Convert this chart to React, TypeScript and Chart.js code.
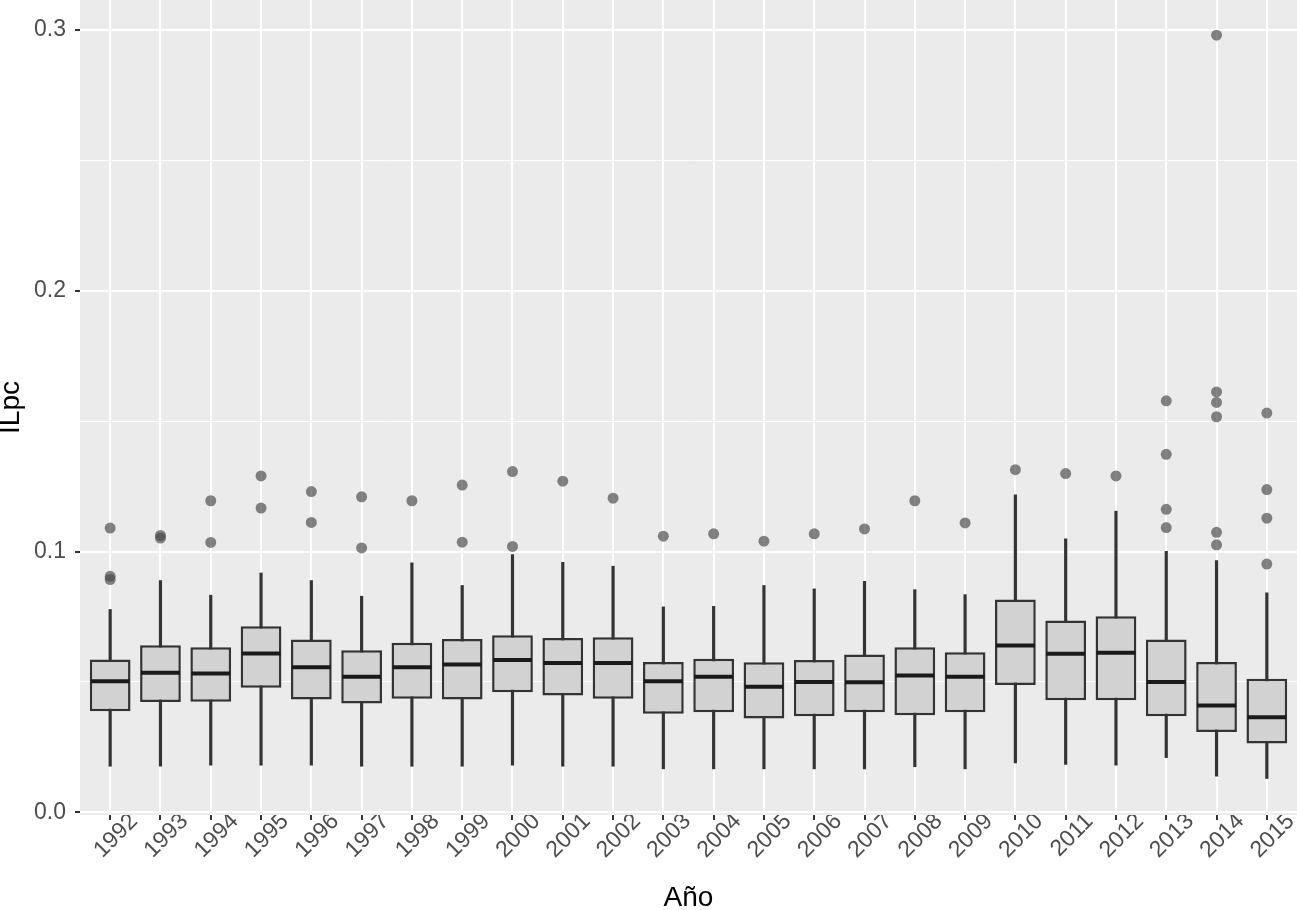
import React, { useEffect, useRef } from 'react';
import { Chart, registerables } from 'chart.js';

Chart.register(...registerables);

const YEARS = ['1992','1993','1994','1995','1996','1997','1998','1999','2000','2001','2002','2003','2004','2005','2006','2007','2008','2009','2010','2011','2012','2013','2014','2015'];

const WHISKER_LOW = [0.0177,0.0177,0.0181,0.0181,0.0181,0.0177,0.0177,0.0177,0.0181,0.0177,0.0177,0.0167,0.0167,0.0167,0.0167,0.0167,0.0175,0.0167,0.019,0.0184,0.0181,0.021,0.0139,0.013];
const Q1 = [0.0388,0.0423,0.0424,0.0478,0.0433,0.0418,0.0436,0.0433,0.0461,0.0448,0.0436,0.0378,0.0384,0.036,0.0369,0.0384,0.0372,0.0384,0.0488,0.043,0.043,0.0369,0.0308,0.0264];
const MEDIAN = [0.0503,0.0535,0.0533,0.0609,0.0557,0.052,0.0557,0.0567,0.0584,0.0573,0.0573,0.0503,0.052,0.0482,0.05,0.0499,0.0525,0.052,0.064,0.0608,0.0612,0.05,0.041,0.0365];
const Q3 = [0.0586,0.0641,0.0633,0.0714,0.0663,0.0622,0.065,0.0665,0.0679,0.0669,0.0672,0.0577,0.0589,0.0576,0.0584,0.0605,0.0633,0.0614,0.0816,0.0736,0.0752,0.0663,0.0577,0.0512];
const WHISKER_HIGH = [0.0778,0.0889,0.0833,0.0918,0.0889,0.0829,0.0957,0.087,0.0989,0.0959,0.0944,0.0788,0.079,0.087,0.0857,0.0886,0.0854,0.0835,0.1218,0.1049,0.1155,0.1001,0.0966,0.0842];

const OUTLIER_YEARS = [
  '1992','1992','1992',
  '1993','1993',
  '1994','1994',
  '1995','1995',
  '1996','1996',
  '1997','1997',
  '1998',
  '1999','1999',
  '2000','2000',
  '2001',
  '2002',
  '2003',
  '2004',
  '2005',
  '2006',
  '2007',
  '2008',
  '2009',
  '2010',
  '2011',
  '2012',
  '2013','2013','2013','2013',
  '2014','2014','2014','2014','2014','2014',
  '2015','2015','2015','2015',
];
const OUTLIER_VALUES = [
  0.109,0.0905,0.0893,
  0.1062,0.1052,
  0.1195,0.1035,
  0.129,0.1167,
  0.123,0.1112,
  0.121,0.1014,
  0.1195,
  0.1255,0.1036,
  0.1307,0.102,
  0.127,
  0.1205,
  0.1059,
  0.1068,
  0.104,
  0.1068,
  0.1087,
  0.1195,
  0.111,
  0.1314,
  0.1299,
  0.129,
  0.1578,0.1373,0.1162,0.1092,
  0.298,0.1612,0.1572,0.1517,0.1074,0.1026,
  0.1531,0.1238,0.1128,0.0952,
];

const Y_TICKS = [0, 0.05, 0.1, 0.15, 0.2, 0.25, 0.3];
const isMajor = (v: number) => Math.abs(v * 10 - Math.round(v * 10)) < 1e-6;

export default function App() {
  const ref = useRef<HTMLCanvasElement>(null);

  useEffect(() => {
    if (!ref.current) return;
    Chart.defaults.font.family = "'Liberation Sans', Arial, sans-serif";

    const panelBg = {
      id: 'panelBg',
      beforeDraw(chart: any) {
        const { ctx, chartArea } = chart;
        ctx.save();
        ctx.fillStyle = '#ebebeb';
        ctx.fillRect(chartArea.left, chartArea.top, chartArea.right - chartArea.left, chartArea.bottom - chartArea.top);
        ctx.restore();
      },
    };

    const medians = {
      id: 'medians',
      afterDatasetsDraw(chart: any) {
        const meta = chart.getDatasetMeta(1);
        const yScale = chart.scales.y;
        const ctx = chart.ctx;
        ctx.save();
        ctx.strokeStyle = '#1a1a1a';
        ctx.lineWidth = 4;
        meta.data.forEach((el: any, i: number) => {
          const y = yScale.getPixelForValue(MEDIAN[i]);
          const half = el.width / 2;
          ctx.beginPath();
          ctx.moveTo(el.x - half + 1, y);
          ctx.lineTo(el.x + half - 1, y);
          ctx.stroke();
        });
        ctx.restore();
      },
    };

    const chart = new Chart(ref.current, {
      type: 'bar',
      data: {
        labels: YEARS,
        datasets: [
          {
            type: 'bar',
            label: 'whisker',
            data: YEARS.map((_, i) => ({ x: i, y: [WHISKER_LOW[i], WHISKER_HIGH[i]] })),
            backgroundColor: '#333333',
            barThickness: 2.5,
            grouped: false,
            order: 3,
          } as any,
          {
            type: 'bar',
            label: 'box',
            data: YEARS.map((_, i) => ({ x: i, y: [Q1[i], Q3[i]] })),
            backgroundColor: '#d2d2d2',
            borderColor: '#333333',
            borderWidth: 2.5,
            borderSkipped: false,
            barPercentage: 0.81,
            categoryPercentage: 1,
            grouped: false,
            order: 2,
          } as any,
          {
            type: 'line',
            label: 'outliers',
            data: OUTLIER_YEARS.map((y, i) => ({ x: YEARS.indexOf(y), y: OUTLIER_VALUES[i] })),
            showLine: false,
            pointRadius: 5.5,
            pointBackgroundColor: 'rgba(70,70,70,0.66)',
            pointBorderWidth: 0,
            pointBorderColor: 'rgba(0,0,0,0)',
            order: 1,
          } as any,
        ],
      },
      options: {
        animation: false,
        responsive: true,
        maintainAspectRatio: false,
        layout: { padding: 0, autoPadding: false },
        plugins: {
          legend: { display: false },
          tooltip: { enabled: false },
        },
        scales: {
          x: {
            type: 'linear',
            min: -0.6,
            max: YEARS.length - 1 + 0.6,
            offset: false,
            afterBuildTicks(s: any) {
              s.ticks = YEARS.map((_, i) => ({ value: i }));
            },
            grid: {
              offset: false,
              color: '#ffffff',
              lineWidth: 2,
              tickColor: '#333333',
              tickLength: 5,
            },
            border: { display: false },
            ticks: {
              autoSkip: false,
              maxRotation: 45,
              minRotation: 45,
              color: '#4d4d4d',
              font: { size: 23 },
              labelOffset: 24,
              padding: -12,
              callback: (v: any) => YEARS[Math.round(Number(v))] ?? '',
            },
            title: {
              display: true,
              text: 'Año',
              color: '#000000',
              font: { size: 28, lineHeight: 0.8 },
              padding: { top: 0, bottom: 1 },
            },
            afterFit(s: any) {
              s.height = 95;
              s.paddingLeft = 0;
              s.paddingRight = 0;
            },
          } as any,
          y: {
            type: 'linear',
            min: -0.001,
            max: 0.3115,
            afterBuildTicks(s: any) {
              s.ticks = Y_TICKS.map((v) => ({ value: v }));
            },
            grid: {
              color: '#ffffff',
              lineWidth: (c: any) => (c.tick && isMajor(c.tick.value) ? 2 : 1),
              tickColor: (c: any) => (c.tick && isMajor(c.tick.value) ? '#333333' : 'rgba(0,0,0,0)'),
              tickLength: 5,
            },
            border: { display: false },
            ticks: {
              color: '#4d4d4d',
              font: { size: 23 },
              padding: 9,
              callback: (v: any) => (isMajor(Number(v)) ? Number(v).toFixed(1) : ''),
            },
            title: {
              display: true,
              text: 'ILpc',
              color: '#000000',
              font: { size: 28, lineHeight: 0.8 },
              padding: { top: 0, bottom: 0 },
            },
            afterFit(s: any) {
              s.width = 80;
              s.paddingTop = 0;
              s.paddingBottom = 0;
            },
          } as any,
        },
      },
      plugins: [panelBg, medians],
    });

    return () => chart.destroy();
  }, []);

  return (
    <div style={{ position: 'fixed', left: 0, top: 0, width: 1297, height: 910, background: '#ffffff' }}>
      <canvas ref={ref} />
    </div>
  );
}
